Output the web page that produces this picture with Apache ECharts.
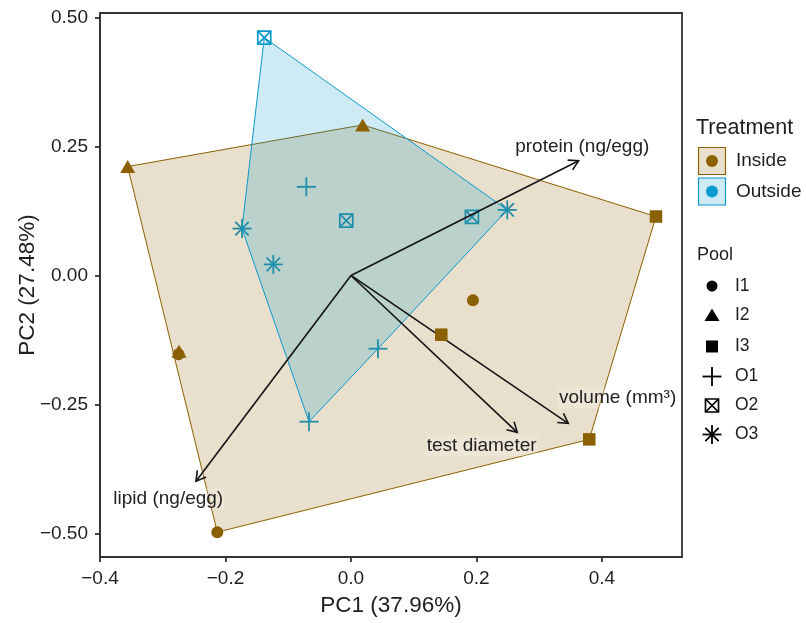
<!DOCTYPE html>
<html><head><meta charset="utf-8">
<script src="https://cdn.jsdelivr.net/npm/echarts@6/dist/echarts.min.js"></script>
<style>html,body{margin:0;padding:0;background:#fff}#c{width:806px;height:623px}</style>
</head><body><div id="c"></div>
<script>
// ---- data ----
const xTicks = [-0.4, -0.2, 0, 0.2, 0.4];
const yTicks = [-0.5, -0.25, 0, 0.25, 0.5];
const xLimits = [-0.4, 0.5276];
const yLimits = [-0.546, 0.509];

const I1 = [[0.1944, -0.0481], [-0.2131, -0.4978], [-0.2749, -0.1528]];
const I2 = [[-0.3559, 0.2112], [0.0186, 0.2920], [-0.2741, -0.1470]];
const I3 = [[0.4861, 0.1143], [0.1439, -0.1149], [0.3798, -0.3179]];
const O1 = [[-0.0712, 0.1719], [0.0430, -0.1421], [-0.0669, -0.2836]];
const O2 = [[-0.1382, 0.4614], [-0.0075, 0.1065], [0.1928, 0.1135]];
const O3 = [[-0.1737, 0.0909], [-0.1238, 0.0214], [0.2491, 0.1271]];

const loadingNames = ['protein (ng/egg)', 'lipid (ng/egg)', 'test diameter', 'volume (mm³)'];
const loadingTips = [[0.3629, 0.2225], [-0.2470, -0.3991], [0.2650, -0.3043], [0.3463, -0.2867]];
const loadingLabelPos = [[0.3686, 0.2498], [-0.2912, -0.4327], [0.2083, -0.3303], [0.4250, -0.2381]];

const treatments = ['Inside', 'Outside'];
const pools = ['I1', 'I2', 'I3', 'O1', 'O2', 'O3'];

// ---- style ----
const BROWN = '#8B6000';
const BLUE = '#0A99CC';
const FONT = "'Liberation Sans', Arial, Helvetica, sans-serif";
const TXT = '#1e1e1e';

function hull(pts) {
  const p = pts.slice().sort((a, b) => a[0] - b[0] || a[1] - b[1]);
  const cross = (o, a, b) => (a[0] - o[0]) * (b[1] - o[1]) - (a[1] - o[1]) * (b[0] - o[0]);
  const lower = [], upper = [];
  for (const q of p) { while (lower.length >= 2 && cross(lower[lower.length - 2], lower[lower.length - 1], q) <= 0) lower.pop(); lower.push(q); }
  for (let i = p.length - 1; i >= 0; i--) { const q = p[i]; while (upper.length >= 2 && cross(upper[upper.length - 2], upper[upper.length - 1], q) <= 0) upper.pop(); upper.push(q); }
  upper.pop(); lower.pop();
  return lower.concat(upper);
}
const insideHull = hull(I1.concat(I2, I3));
const outsideHull = hull(O1.concat(O2, O3));

function shapeEls(kind, cx, cy, color, scale) {
  const s = scale || 1;
  const st = { stroke: color, lineWidth: 1.8, fill: null };
  if (kind === 'O1') {
    const h = 9.5 * s;
    return [
      { type: 'line', shape: { x1: cx - h, y1: cy, x2: cx + h, y2: cy }, style: st },
      { type: 'line', shape: { x1: cx, y1: cy - h, x2: cx, y2: cy + h }, style: st }
    ];
  }
  if (kind === 'O2') {
    const h = 6.5 * s;
    const st2 = { stroke: color, lineWidth: 1.7, fill: null };
    return [
      { type: 'rect', shape: { x: cx - h, y: cy - h, width: 2 * h, height: 2 * h }, style: st2 },
      { type: 'line', shape: { x1: cx - h, y1: cy - h, x2: cx + h, y2: cy + h }, style: st2 },
      { type: 'line', shape: { x1: cx - h, y1: cy + h, x2: cx + h, y2: cy - h }, style: st2 }
    ];
  }
  if (kind === 'O3') {
    const h = 9.5 * s, d = 6.7 * s;
    return [
      { type: 'line', shape: { x1: cx - h, y1: cy, x2: cx + h, y2: cy }, style: st },
      { type: 'line', shape: { x1: cx, y1: cy - h, x2: cx, y2: cy + h }, style: st },
      { type: 'line', shape: { x1: cx - d, y1: cy - d, x2: cx + d, y2: cy + d }, style: st },
      { type: 'line', shape: { x1: cx - d, y1: cy + d, x2: cx + d, y2: cy - d }, style: st }
    ];
  }
  return [];
}

function outsidePointSeries(name, arr) {
  return {
    type: 'custom', name: name, data: arr, clip: false,
    renderItem: function (params, api) {
      const p = api.coord([api.value(0), api.value(1)]);
      return { type: 'group', children: shapeEls(name, p[0], p[1], BLUE) };
    }
  };
}

function hullSeries(pts, color) {
  return {
    type: 'custom', data: pts.map((_, i) => [i]), clip: false, silent: true,
    renderItem: function (params, api) {
      if (params.dataIndex !== 0) return null;
      const poly = pts.map(q => api.coord(q));
      return {
        type: 'polygon', shape: { points: poly },
        style: { fill: echarts.color.modifyAlpha(color, 0.2), stroke: color, lineWidth: 1 }
      };
    }
  };
}

const chart = echarts.init(document.getElementById('c'), null, { renderer: 'canvas' });

const legendEls = [];
legendEls.push({ type: 'text', x: 696, y: 128, style: { text: 'Treatment', font: '21.5px ' + FONT, fill: TXT, verticalAlign: 'middle' } });
[[BROWN, 161], [BLUE, 191.5]].forEach((c, i) => {
  legendEls.push({ type: 'rect', shape: { x: 698.5, y: c[1] - 13.5, width: 27, height: 27 }, style: { fill: echarts.color.modifyAlpha(c[0], 0.2), stroke: c[0], lineWidth: 1.2 } });
  legendEls.push({ type: 'circle', shape: { cx: 712, cy: c[1], r: 6 }, style: { fill: c[0] } });
  legendEls.push({ type: 'text', x: 736, y: c[1], style: { text: treatments[i], font: '19px ' + FONT, fill: TXT, verticalAlign: 'middle' } });
});
legendEls.push({ type: 'text', x: 697, y: 255, style: { text: 'Pool', font: '18px ' + FONT, fill: TXT, verticalAlign: 'middle' } });
const rowY = [286, 315.5, 346.5, 376.5, 405.5, 434.5];
pools.forEach((pname, i) => {
  const y = rowY[i], x = 712;
  if (pname === 'I1') legendEls.push({ type: 'circle', shape: { cx: x, cy: y, r: 5.5 }, style: { fill: '#000' } });
  else if (pname === 'I2') legendEls.push({ type: 'polygon', shape: { points: [[x, y - 7], [x + 7.5, y + 5.5], [x - 7.5, y + 5.5]] }, style: { fill: '#000' } });
  else if (pname === 'I3') legendEls.push({ type: 'rect', shape: { x: x - 6, y: y - 6, width: 12, height: 12 }, style: { fill: '#000' } });
  else shapeEls(pname, x, y, '#000').forEach(e => legendEls.push(e));
  legendEls.push({ type: 'text', x: 735, y: y, style: { text: pname, font: '17.5px ' + FONT, fill: TXT, verticalAlign: 'middle' } });
});

const option = {
  animation: false,
  backgroundColor: '#fff',
  grid: { left: 100, right: 124, top: 13, bottom: 66, show: true, borderColor: '#333', borderWidth: 1.8, backgroundColor: 'transparent' },
  xAxis: {
    type: 'value', min: xLimits[0], max: xLimits[1],
    name: 'PC1 (37.96%)', nameLocation: 'middle', nameGap: 37, nameMoveOverlap: false,
    nameTextStyle: { fontFamily: FONT, fontSize: 22.5, color: TXT },
    axisLine: { show: true, onZero: false, lineStyle: { color: '#333', width: 1.8 } },
    axisTick: { show: true, length: 5, customValues: xTicks, lineStyle: { color: '#333', width: 1.8 } },
    axisLabel: { customValues: xTicks, fontFamily: FONT, fontSize: 19, color: TXT, margin: 12,
      formatter: v => (v < 0 ? '\u2212' : '') + Math.abs(v).toFixed(1) },
    splitLine: { show: false }
  },
  yAxis: {
    type: 'value', min: yLimits[0], max: yLimits[1],
    name: 'PC2 (27.48%)', nameLocation: 'middle', nameGap: 61, nameRotate: 90, nameMoveOverlap: false,
    nameTextStyle: { fontFamily: FONT, fontSize: 22.5, color: TXT },
    axisLine: { show: true, onZero: false, lineStyle: { color: '#333', width: 1.8 } },
    axisTick: { show: true, length: 5, customValues: yTicks, lineStyle: { color: '#333', width: 1.8 } },
    axisLabel: { customValues: yTicks, fontFamily: FONT, fontSize: 19, color: TXT, margin: 12,
      formatter: v => (v < 0 ? '\u2212' : '') + Math.abs(v).toFixed(2) },
    splitLine: { show: false }
  },
  series: [
    { type: 'scatter', name: 'I1', data: I1, symbol: 'circle', symbolSize: 12, itemStyle: { color: BROWN, opacity: 1 } },
    { type: 'scatter', name: 'I2', data: I2, symbol: 'triangle', symbolSize: [15, 13], itemStyle: { color: BROWN, opacity: 1 } },
    { type: 'scatter', name: 'I3', data: I3, symbol: 'rect', symbolSize: 12.5, itemStyle: { color: BROWN, opacity: 1 } },
    outsidePointSeries('O1', O1),
    outsidePointSeries('O2', O2),
    outsidePointSeries('O3', O3),
    hullSeries(insideHull, BROWN),
    hullSeries(outsideHull, BLUE),
    {
      type: 'custom', data: loadingTips, clip: false, silent: true,
      renderItem: function (params, api) {
        const p0 = api.coord([0, 0]);
        const p1 = api.coord([api.value(0), api.value(1)]);
        const a = Math.atan2(p1[1] - p0[1], p1[0] - p0[0]);
        const L = 11, sp = Math.PI / 6;
        const h1 = [p1[0] - L * Math.cos(a - sp), p1[1] - L * Math.sin(a - sp)];
        const h2 = [p1[0] - L * Math.cos(a + sp), p1[1] - L * Math.sin(a + sp)];
        const st = { stroke: '#141414', lineWidth: 1.6, fill: null };
        return { type: 'group', children: [
          { type: 'line', shape: { x1: p0[0], y1: p0[1], x2: p1[0], y2: p1[1] }, style: st },
          { type: 'polyline', shape: { points: [h1, p1, h2] }, style: st }
        ] };
      }
    },
    {
      type: 'custom', data: loadingLabelPos.map((p, i) => [p[0], p[1], i]), clip: false, silent: true,
      renderItem: function (params, api) {
        const p = api.coord([api.value(0), api.value(1)]);
        return { type: 'text', x: p[0], y: p[1], style: {
          text: loadingNames[params.dataIndex], font: '19px ' + FONT, fill: '#222',
          align: 'center', verticalAlign: 'middle', backgroundColor: 'rgba(255,255,255,0.22)', padding: [1, 1] } };
      }
    }
  ],
  graphic: { elements: legendEls }
};
chart.setOption(option);
</script></body></html>
